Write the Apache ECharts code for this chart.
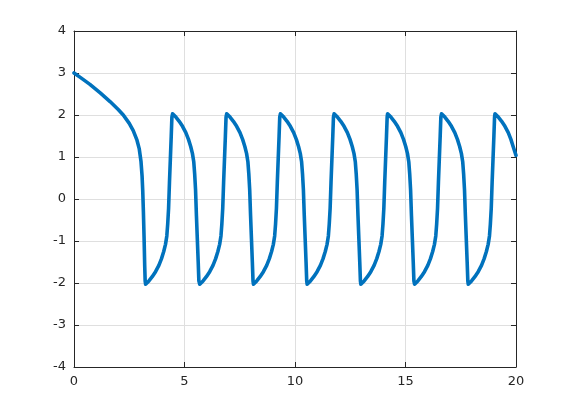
<!DOCTYPE html>
<html>
<head>
<meta charset="utf-8">
<script src="https://cdn.jsdelivr.net/npm/echarts@6/dist/echarts.min.js"></script>
<style>html,body{margin:0;padding:0;background:#fff;}#c{width:570px;height:413px;}</style>
</head>
<body>
<div id="c"></div>
<script>
var xTicks = [0, 5, 10, 15, 20];
var yTicks = [-4, -3, -2, -1, 0, 1, 2, 3, 4];

var tInitial = [0, 0.3, 0.72, 1.2, 1.63, 2.0, 2.23, 2.5, 2.68, 2.85, 2.95, 3.03, 3.08, 3.11, 3.14, 3.17, 3.2, 3.22];
var yInitial = [3.0, 2.89, 2.73, 2.52, 2.32, 2.13, 2.0, 1.8, 1.63, 1.4, 1.2, 0.9, 0.55, 0.2, -0.3, -0.9, -1.6, -1.95];

var tMin1 = [3.24, 3.39, 3.54, 3.69, 3.84, 3.96, 4.06, 4.14, 4.20, 4.24, 4.28, 4.32, 4.36, 4.40, 4.43];
var tPeak1 = [4.46, 4.61, 4.76, 4.91, 5.06, 5.18, 5.28, 5.36, 5.42, 5.46, 5.50, 5.54, 5.58, 5.62, 5.65];
var tMin2 = [5.69, 5.84, 5.99, 6.14, 6.29, 6.41, 6.51, 6.59, 6.65, 6.69, 6.73, 6.77, 6.81, 6.85, 6.88];
var tPeak2 = [6.91, 7.06, 7.21, 7.36, 7.51, 7.63, 7.73, 7.81, 7.87, 7.91, 7.95, 7.99, 8.03, 8.07, 8.10];
var tMin3 = [8.12, 8.27, 8.42, 8.57, 8.72, 8.84, 8.94, 9.02, 9.08, 9.12, 9.16, 9.20, 9.24, 9.28, 9.31];
var tPeak3 = [9.34, 9.49, 9.64, 9.79, 9.94, 10.06, 10.16, 10.24, 10.30, 10.34, 10.38, 10.42, 10.46, 10.50, 10.53];
var tMin4 = [10.55, 10.70, 10.85, 11.00, 11.15, 11.27, 11.37, 11.45, 11.51, 11.55, 11.59, 11.63, 11.67, 11.71, 11.74];
var tPeak4 = [11.77, 11.92, 12.07, 12.22, 12.37, 12.49, 12.59, 12.67, 12.73, 12.77, 12.81, 12.85, 12.89, 12.93, 12.96];
var tMin5 = [12.98, 13.13, 13.28, 13.43, 13.58, 13.70, 13.80, 13.88, 13.94, 13.98, 14.02, 14.06, 14.10, 14.14, 14.17];
var tPeak5 = [14.19, 14.34, 14.49, 14.64, 14.79, 14.91, 15.01, 15.09, 15.15, 15.19, 15.23, 15.27, 15.31, 15.35, 15.38];
var tMin6 = [15.41, 15.56, 15.71, 15.86, 16.01, 16.13, 16.23, 16.31, 16.37, 16.41, 16.45, 16.49, 16.53, 16.57, 16.60];
var tPeak6 = [16.63, 16.78, 16.93, 17.08, 17.23, 17.35, 17.45, 17.53, 17.59, 17.63, 17.67, 17.71, 17.75, 17.79, 17.82];
var tMin7 = [17.84, 17.99, 18.14, 18.29, 18.44, 18.56, 18.66, 18.74, 18.80, 18.84, 18.88, 18.92, 18.96, 19.00, 19.03];
var tPeak7 = [19.05, 19.20, 19.35, 19.50, 19.65, 19.77, 19.87, 19.95, 20.0];

var yFromMin = [-2.03, -1.95, -1.85, -1.73, -1.58, -1.42, -1.25, -1.08, -0.88, -0.6, -0.22, 0.4, 0.95, 1.5, 1.95];
var yFromPeak = [2.03, 1.95, 1.85, 1.73, 1.58, 1.42, 1.25, 1.08, 0.88, 0.6, 0.22, -0.4, -0.95, -1.5, -1.95];
var yLastPeak = [2.03, 1.95, 1.85, 1.73, 1.58, 1.42, 1.25, 1.12, 1.04];

var segments = [
  [tInitial, yInitial],
  [tMin1, yFromMin], [tPeak1, yFromPeak],
  [tMin2, yFromMin], [tPeak2, yFromPeak],
  [tMin3, yFromMin], [tPeak3, yFromPeak],
  [tMin4, yFromMin], [tPeak4, yFromPeak],
  [tMin5, yFromMin], [tPeak5, yFromPeak],
  [tMin6, yFromMin], [tPeak6, yFromPeak],
  [tMin7, yFromMin], [tPeak7, yLastPeak]
];
var data = [];
segments.forEach(function (s) {
  for (var i = 0; i < s[0].length; i++) data.push([s[0][i], s[1][i]]);
});

var axisColor = '#262626';
var gridColor = '#dfdfdf';
var font = 'DejaVu Sans';

var chart = echarts.init(document.getElementById('c'));
chart.setOption({
  animation: false,
  grid: { left: 74, right: 54, top: 31, bottom: 46, containLabel: false },
  xAxis: [{
    type: 'value', min: 0, max: 20, interval: 5,
    axisLine: { show: true, onZero: false, lineStyle: { color: axisColor, width: 1 } },
    axisTick: { show: true, inside: true, length: 5, lineStyle: { color: axisColor } },
    axisLabel: { color: axisColor, fontFamily: font, fontSize: 13, margin: 8,
      formatter: function (v) { return xTicks.indexOf(v) >= 0 ? String(v) : ''; } },
    splitLine: { show: true, lineStyle: { color: gridColor, width: 1 } }
  }, {
    type: 'value', min: 0, max: 20, interval: 5, position: 'top',
    axisLine: { show: true, onZero: false, lineStyle: { color: axisColor, width: 1 } },
    axisTick: { show: true, inside: true, length: 5, lineStyle: { color: axisColor } },
    axisLabel: { show: false }, splitLine: { show: false }
  }],
  yAxis: [{
    type: 'value', min: -4, max: 4, interval: 1,
    axisLine: { show: true, onZero: false, lineStyle: { color: axisColor, width: 1 } },
    axisTick: { show: true, inside: true, length: 5, lineStyle: { color: axisColor } },
    axisLabel: { color: axisColor, fontFamily: font, fontSize: 13, margin: 8,
      formatter: function (v) { return yTicks.indexOf(v) >= 0 ? String(v) : ''; } },
    splitLine: { show: true, lineStyle: { color: gridColor, width: 1 } }
  }, {
    type: 'value', min: -4, max: 4, interval: 1, position: 'right',
    axisLine: { show: true, onZero: false, lineStyle: { color: axisColor, width: 1 } },
    axisTick: { show: true, inside: true, length: 5, lineStyle: { color: axisColor } },
    axisLabel: { show: false }, splitLine: { show: false }
  }],
  series: [{
    type: 'line', data: data, xAxisIndex: 0, yAxisIndex: 0,
    showSymbol: false, smooth: false, clip: true,
    lineStyle: { color: '#0072BD', width: 3.6, join: 'round', cap: 'round' }
  }]
});
</script>
</body>
</html>
